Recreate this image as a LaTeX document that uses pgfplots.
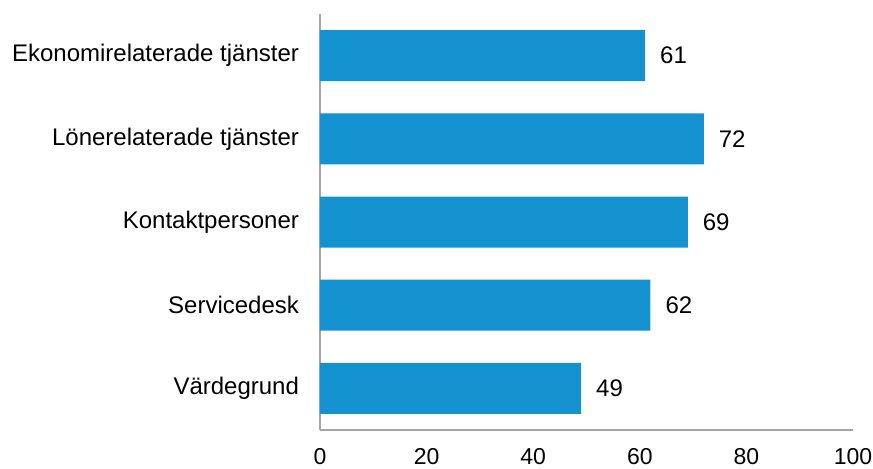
\documentclass[border=0pt]{standalone}
\usepackage{pgfplots}
\pgfplotsset{compat=1.18}
\usepackage{fontspec}
\setmainfont{Liberation Sans}
\definecolor{barblue}{RGB}{20,146,208}
\definecolor{axgray}{RGB}{166,166,166}
\begin{document}
\begin{tikzpicture}
\path[use as bounding box] (-160pt,-19.5pt) rectangle (276.5pt,215pt);
\begin{axis}[
  scale only axis,
  width=266.5pt, height=208pt,
  xbar,
  bar width=25.5pt,
  xmin=0, xmax=100,
  ymin=-0.5, ymax=4.5,
  y dir=reverse,
  ytick={0,1,2,3,4},
  yticklabels={Ekonomirelaterade tjänster,Lönerelaterade tjänster,Kontaktpersoner,Servicedesk,Värdegrund},
  xtick={0,20,40,60,80,100},
  axis x line=bottom, axis y line=left,
  axis line style={-, draw=axgray, line width=0.9pt},
  major tick length=0pt,
  tick style={draw=none},
  /pgf/number format/assume math mode=true,
  tick label style={font=\fontsize{11.5}{13}\selectfont, text=black},
  yticklabel style={xshift=-7pt, font=\fontsize{12}{14}\selectfont},
  xticklabel style={yshift=-5.5pt},
  nodes near coords,
  every node near coord/.append style={anchor=west, xshift=4pt, font=\fontsize{12}{14}\selectfont, text=black},
  clip=false,
]
\addplot[fill=barblue, draw=none] coordinates {(61,0) (72,1) (69,2) (62,3) (49,4)};
\end{axis}
\end{tikzpicture}
\end{document}
